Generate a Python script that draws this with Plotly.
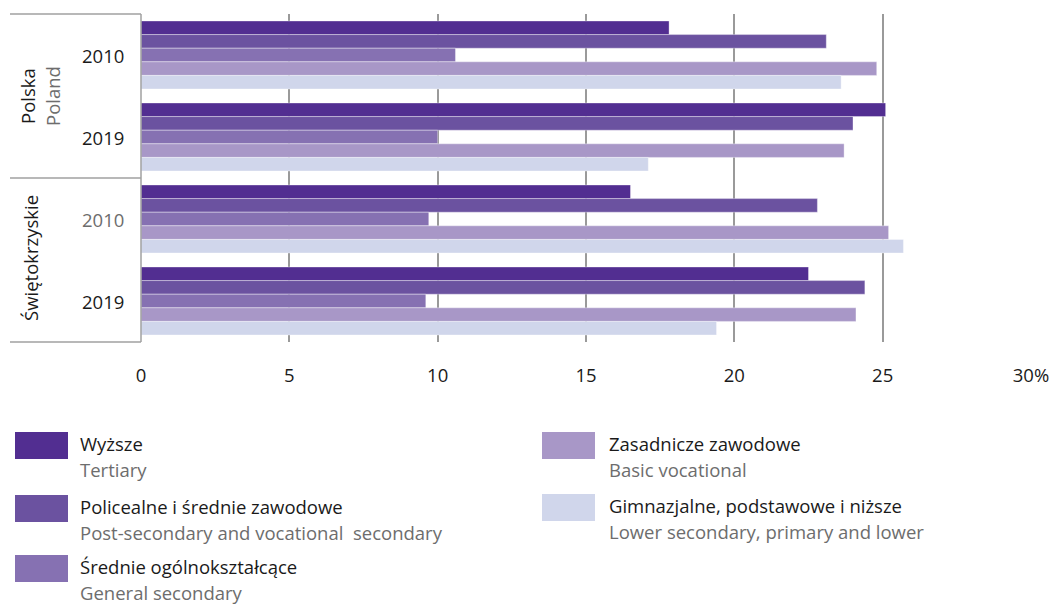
import plotly.graph_objects as go

categories = ["P2010", "P2019", "S2010", "S2019"]
series_pl = ["Wyższe", "Policealne i średnie zawodowe", "Średnie ogólnokształcące",
             "Zasadnicze zawodowe", "Gimnazjalne, podstawowe i niższe"]
series_en = ["Tertiary", "Post-secondary and vocational  secondary", "General secondary",
             "Basic vocational", "Lower secondary, primary and lower"]
values = {
    "Wyższe": [17.8, 25.1, 16.5, 22.5],
    "Policealne i średnie zawodowe": [23.1, 24.0, 22.8, 24.4],
    "Średnie ogólnokształcące": [10.6, 10.0, 9.7, 9.6],
    "Zasadnicze zawodowe": [24.8, 23.7, 25.2, 24.1],
    "Gimnazjalne, podstawowe i niższe": [23.6, 17.1, 25.7, 19.4],
}
colors = ["#522e91", "#6b52a0", "#8671b2", "#a897c7", "#d0d6eb"]
year_labels = ["2010", "2019", "2010", "2019"]
year_colors = ["#1a1a1a", "#1a1a1a", "#6d6d6d", "#1a1a1a"]
tick_vals = [0, 5, 10, 15, 20, 25, 30]
tick_text = ["0", "5", "10", "15", "20", "25", "30%"]

FONT = "Open Sans"
FS = 18.5
fig = go.Figure()
for name, col in zip(series_pl, colors):
    fig.add_trace(go.Bar(
        y=categories, x=values[name], orientation="h", name=name,
        marker=dict(color=col, line=dict(color="rgba(255,255,255,0.45)", width=0.8)),
        showlegend=False,
    ))

L, R, T, B = 141, 30, 14, 262
W, H = 1061, 604
pw = W - L - R
ph = H - T - B

def px_x(x):
    return (x - L) / pw

def px_y(y):
    return 1 - (y - T) / ph

fig.update_layout(
    width=W, height=H,
    margin=dict(l=L, r=R, t=T, b=B),
    paper_bgcolor="white", plot_bgcolor="white",
    barmode="group", bargap=0.17, bargroupgap=0,
    font=dict(family=FONT, size=FS, color="#1a1a1a"),
    xaxis=dict(range=[0, 30], tickvals=tick_vals, ticktext=tick_text,
               showgrid=True, gridcolor="#9a9a9a", gridwidth=1.6,
               zeroline=False, showline=False, ticks="",
               ticklabelstandoff=20, tickfont=dict(size=FS, color="#1a1a1a")),
    yaxis=dict(categoryorder="array", categoryarray=categories, autorange="reversed",
               showticklabels=False, showgrid=False, zeroline=False, showline=False),
)

# Left label box
line_c = "#a0a0a0"
x0 = px_x(10)
for yy in [1, 0.5, 0]:
    fig.add_shape(type="line", xref="paper", yref="paper", x0=x0, x1=0, y0=yy, y1=yy,
                  line=dict(color=line_c, width=1.5))
fig.add_shape(type="line", xref="paper", yref="paper", x0=0, x1=0, y0=0, y1=1,
              line=dict(color=line_c, width=1.5))

for cat, lab, col in zip(categories, year_labels, year_colors):
    fig.add_annotation(x=px_x(103), xref="paper", y=cat, yref="y", text=lab,
                       showarrow=False, font=dict(size=FS, color=col),
                       xanchor="center", yanchor="middle")

def vlabel(x, y, text, color):
    fig.add_annotation(x=px_x(x), xref="paper", y=px_y(y), yref="paper", text=text,
                       textangle=-90, showarrow=False, xanchor="center", yanchor="middle",
                       font=dict(size=FS, color=color))

vlabel(27, 96, "Polska", "#1a1a1a")
vlabel(52, 96, "Poland", "#6d6d6d")
vlabel(30, 258, "Świętokrzyskie", "#1a1a1a")

# Custom legend
legend_pos = [(15, 432, 78), (15, 495, 78), (15, 555, 78), (542, 432, 607), (542, 494, 607)]
for (sx, sy, tx), pl, en, col in zip(legend_pos, series_pl, series_en, colors):
    fig.add_shape(type="rect", xref="paper", yref="paper",
                  x0=px_x(sx), x1=px_x(sx + 53), y0=px_y(sy), y1=px_y(sy + 27),
                  fillcolor=col, line=dict(width=0))
    fig.add_annotation(x=px_x(tx), xref="paper", y=px_y(sy + 11), yref="paper", text=pl,
                       showarrow=False, xanchor="left", yanchor="middle",
                       font=dict(size=FS, color="#1a1a1a"))
    fig.add_annotation(x=px_x(tx), xref="paper", y=px_y(sy + 37), yref="paper", text=en,
                       showarrow=False, xanchor="left", yanchor="middle",
                       font=dict(size=FS, color="#6d6d6d"))

fig.write_html("out.html", config={"displayModeBar": False},
               post_script="document.body.style.margin='0';")
